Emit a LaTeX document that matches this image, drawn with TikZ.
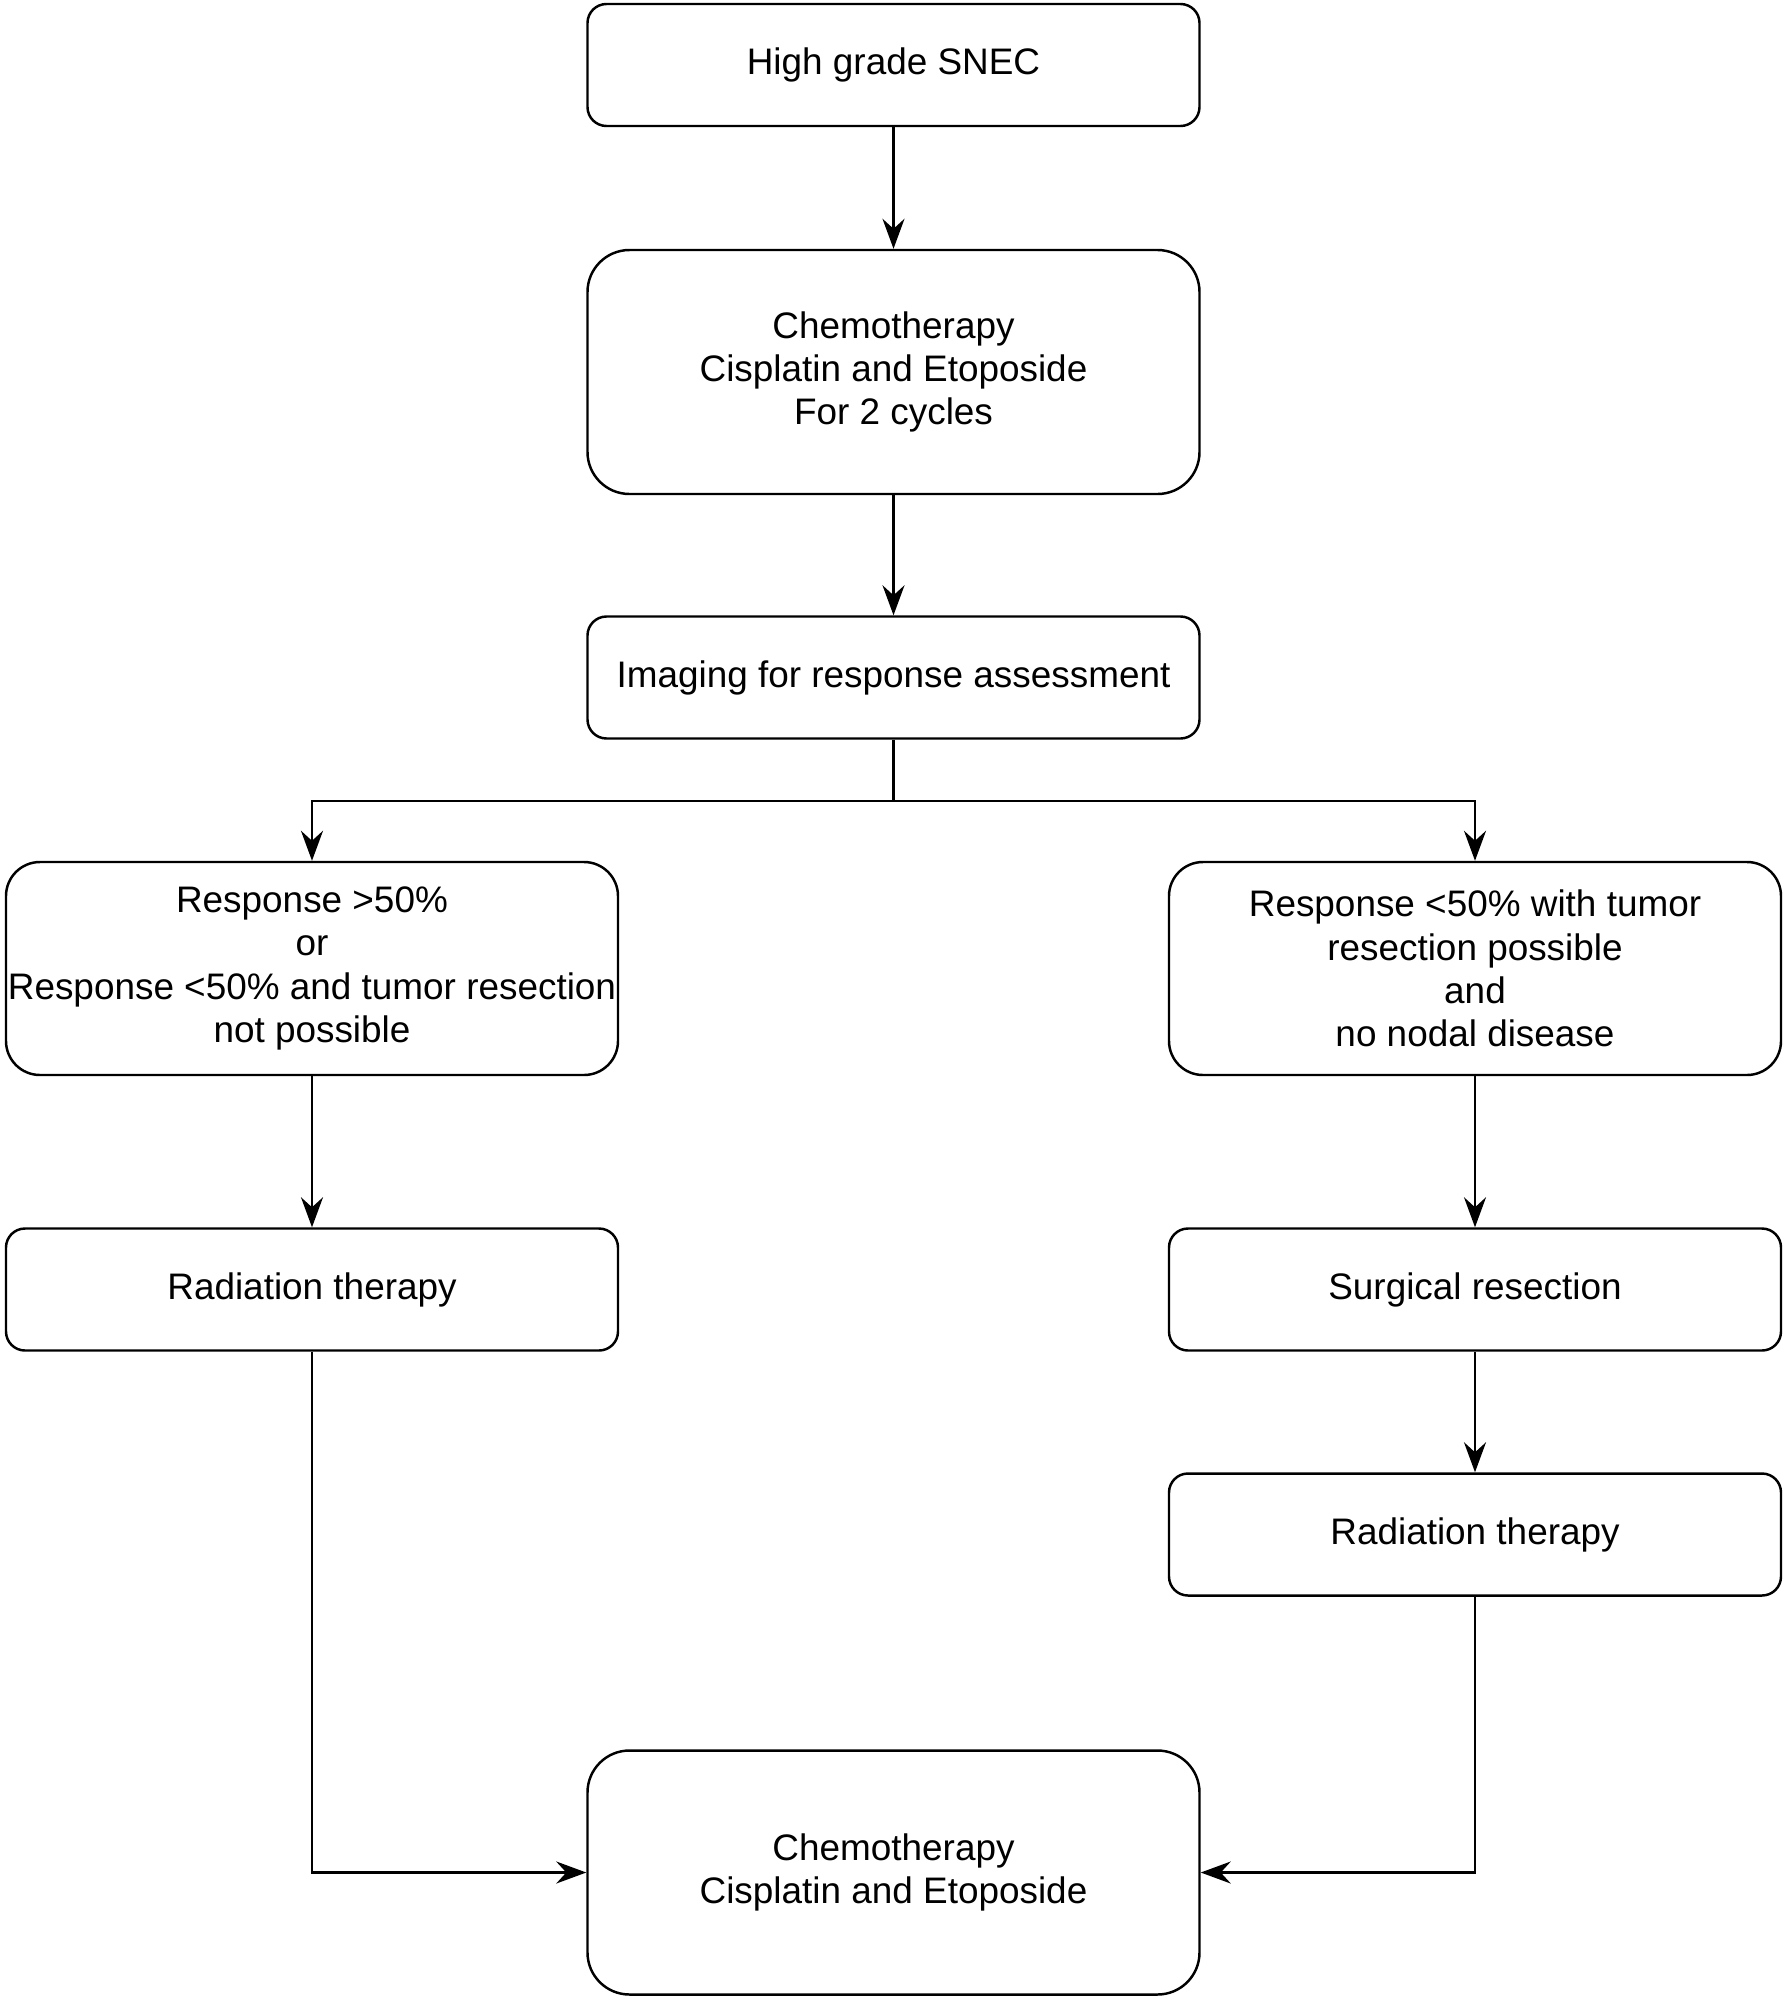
\documentclass[tikz,border=0pt]{standalone}
\usepackage{fontspec}
\setmainfont{Liberation Sans}
\usepackage{tikz}
\usetikzlibrary{arrows.meta, positioning}

\begin{document}
\begin{tikzpicture} [on grid, line width = 0.7pt,
        block/.style = {draw, rounded corners = 0.19cm, minimum width = 6.12cm, minimum height = 1.22cm,
            inner sep = 0pt, align = center, font = \fontsize{10.5}{12.35}\selectfont},
        tall/.style = {rounded corners = 0.34cm, minimum height = 2.13cm},
        taller/.style = {rounded corners = 0.42cm, minimum height = 2.44cm},
        arrow/.style = {-{Stealth[length = 0.3cm, width = 0.22cm, inset = 0.1cm]}}]
        \useasboundingbox (0,0) rectangle (17.87,-20);

        \node (snec) [block] at (8.935,-0.65) {High grade SNEC};
        \node (chemo) [block, taller, below = 3.07cm of snec] {Chemotherapy\\Cisplatin and Etoposide\\For 2 cycles};
        \node (img) [block, below = 3.055cm of chemo] {Imaging for response assessment};
        \node (respL) [block, tall, below left = 2.91cm and 5.815cm of img] {Response >50\%\\or\\Response <50\% and tumor resection\\not possible};
        \node (respR) [block, tall, below right = 2.91cm and 5.815cm of img] {Response <50\% with tumor\\resection possible\\and\\no nodal disease};
        \node (radL) [block, below = 3.21cm of respL] {Radiation therapy};
        \node (surg) [block, below = 3.21cm of respR] {Surgical resection};
        \node (radR) [block, below = 2.45cm of surg] {Radiation therapy};
        \node (final) [block, taller, below = 11.95cm of img] {Chemotherapy\\Cisplatin and Etoposide};

        \coordinate (split) at ([yshift = -0.61cm] img.south);

        \path [arrow] (snec) edge (chemo);
        \path [arrow] (chemo) edge (img);
        \draw [arrow] (img.south) -- (split) -| (respL.north);
        \draw [arrow] (split) -| (respR.north);
        \path [arrow] (respL) edge (radL);
        \path [arrow] (respR) edge (surg);
        \path [arrow] (surg) edge (radR);
        \draw [arrow] (radL.south) |- (final.west);
        \draw [arrow] (radR.south) |- (final.east);
    \end{tikzpicture}
\end{document}
